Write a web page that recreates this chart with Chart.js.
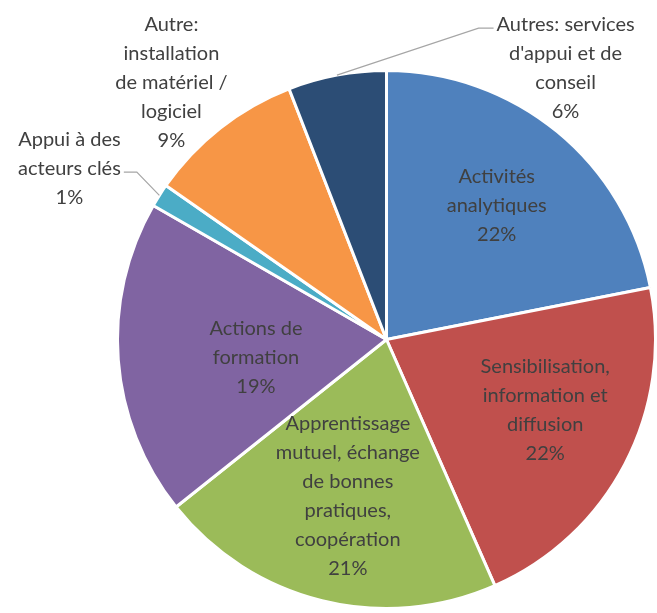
<!DOCTYPE html>
<html>
<head>
<meta charset="utf-8">
<script src="https://cdn.jsdelivr.net/npm/chart.js@4.4.0/dist/chart.umd.min.js"></script>
<style>
  html, body { margin: 0; padding: 0; background: #fff; }
  #wrap { width: 657px; height: 613px; position: relative; }
</style>
</head>
<body>
<div id="wrap"><canvas id="pie"></canvas></div>
<script>
// categories, one array of lines per slice (as wrapped in the chart)
const categories = [
    ["Activités", "analytiques"],
    ["Sensibilisation,", "information et", "diffusion"],
    ["Apprentissage", "mutuel, échange", "de bonnes", "pratiques,", "coopération"],
    ["Actions de", "formation"],
    ["Appui à des", "acteurs clés"],
    ["Autre:", "installation", "de matériel /", "logiciel"],
    ["Autres: services", "d'appui et de", "conseil"]
];
const shares = [21.9, 21.5, 20.9, 19.0, 1.4, 9.4, 5.9];
const colors = ["#4f81bd", "#c0504d", "#9bbb59", "#8064a2", "#4bacc6", "#f79646", "#2c4d75"];

// where each label sits, relative to its slice (radius fraction, angle shift in degrees)
const placement = [
    { r: 0.645, da: 0 },
    { r: 0.645, da: -3.7 },
    { r: 0.6, da: 0 },
    { r: 0.49, da: -3.7 },
    { r: 1.34, da: -4, leader: { line: 1, side: "right" } },
    { r: 1.245, da: -1.8 },
    { r: 1.21, da: 44, leader: { line: 0, side: "left" } }
];

const FONT = "20px Lato, 'Open Sans', sans-serif";
const LINE_H = 29;
const TEXT_COLOR = "#404040";

const sliceLabels = {
    id: "sliceLabels",
    afterDatasetsDraw(chart) {
        const ctx = chart.ctx;
        const arcs = chart.getDatasetMeta(0).data;
        ctx.save();
        ctx.font = FONT;
        ctx.fillStyle = TEXT_COLOR;
        ctx.textAlign = "center";
        ctx.textBaseline = "middle";
        arcs.forEach((arc, i) => {
            const p = placement[i];
            const mid = (arc.startAngle + arc.endAngle) / 2;
            const ang = mid + p.da * Math.PI / 180;
            const cx = arc.x + Math.cos(ang) * arc.outerRadius * p.r;
            const cy = arc.y + Math.sin(ang) * arc.outerRadius * p.r;
            const lines = categories[i].concat([Math.round(shares[i]) + "%"]);
            const top = cy - (lines.length - 1) * LINE_H / 2;
            lines.forEach((t, k) => ctx.fillText(t, cx, top + k * LINE_H));

            if (p.leader) {
                const ly = top + p.leader.line * LINE_H + 4;
                const w = ctx.measureText(lines[p.leader.line]).width;
                const sx = arc.x + Math.cos(mid) * arc.outerRadius;
                const sy = arc.y + Math.sin(mid) * arc.outerRadius;
                let ex, bx;
                if (p.leader.side === "right") {
                    ex = cx + w / 2 + 3;
                    bx = ex + 13;
                } else {
                    ex = cx - w / 2 - 3;
                    bx = ex - 15;
                }
                ctx.beginPath();
                ctx.strokeStyle = "#a6a6a6";
                ctx.lineWidth = 1.2;
                ctx.moveTo(sx, sy);
                ctx.lineTo(bx, ly);
                ctx.lineTo(ex, ly);
                ctx.stroke();
            }
        });
        ctx.restore();
    }
};

new Chart(document.getElementById("pie"), {
    type: "pie",
    data: {
        labels: categories,
        datasets: [{
            data: shares,
            backgroundColor: colors,
            borderColor: "#ffffff",
            borderWidth: 3
        }]
    },
    options: {
        responsive: true,
        maintainAspectRatio: false,
        animation: false,
        layout: { padding: { left: 116, top: 68, right: 0, bottom: 2 } },
        plugins: {
            legend: { display: false },
            tooltip: { enabled: false }
        }
    },
    plugins: [sliceLabels]
});
</script>
</body>
</html>
